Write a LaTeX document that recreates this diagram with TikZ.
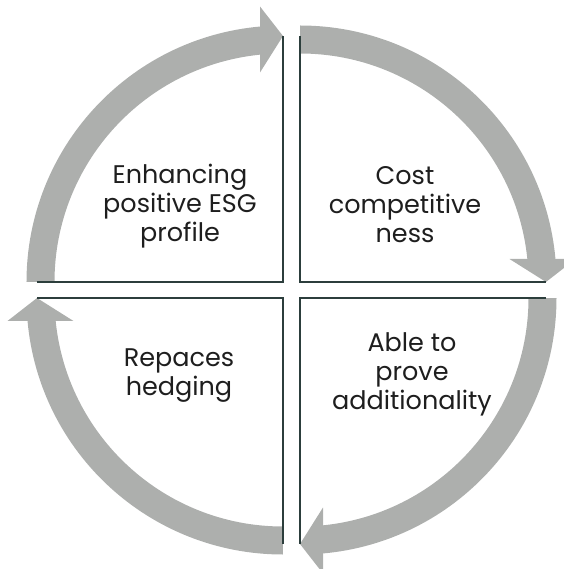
\documentclass[tikz,border=0pt]{standalone}
\usepackage{fontspec}
\usepackage{xcolor}
\usetikzlibrary{calc}
\newfontfamily\labelfont{Poppins}
\definecolor{arcgray}{RGB}{173, 175, 173}
\definecolor{dividerdark}{RGB}{44, 62, 60}
\definecolor{labeltext}{RGB}{30, 30, 30}
\tikzset{
    % Thick curved band of each quarter
    cyclearc/.style={
        draw=arcgray,
        line width=28pt,
        line cap=butt,
    },
    % Flat arrow head closing the band
    cyclehead/.style={
        fill=arcgray,
    },
    % Straight edges of each quarter
    divider/.style={
        draw=dividerdark,
        line width=2pt,
        line join=miter,
    },
    % Quarter text
    quadlabel/.style={
        font=\labelfont\fontsize{25.5}{29}\selectfont,
        text=labeltext,
        align=center,
        inner sep=0pt,
    },
}

\begin{document}
\begin{tikzpicture}[x=1pt, y=1pt]

\useasboundingbox (-291.5,-279) rectangle (271.5,290);

% =========================================================================
% Corners of the four quarters
% =========================================================================
\coordinate (ctl) at (-8.5, 8);
\coordinate (ctr) at (8.5, 8);
\coordinate (cbr) at (8.5, -8);
\coordinate (cbl) at (-8.5, -8);

% =========================================================================
% TOP LEFT (left -> top)
% =========================================================================
\draw[cyclearc] ($(ctl)+(180:242.5)$) arc[start angle=180, end angle=95, radius=242.5];
\fill[cyclehead] ($(ctl)+(90:246)$) -- ($(ctl)+(90:275.5)+(-23,0)$) -- ($(ctl)+(90:209.5)+(-23,0)$) -- cycle;
\draw[divider] ($(ctl)+(180:246)$) -- (ctl) -- ($(ctl)+(90:246)$);

% =========================================================================
% TOP RIGHT (top -> right)
% =========================================================================
\draw[cyclearc] ($(ctr)+(90:242.5)$) arc[start angle=90, end angle=5, radius=242.5];
\fill[cyclehead] ($(ctr)+(0:246)$) -- ($(ctr)+(0:275.5)+(0,23)$) -- ($(ctr)+(0:209.5)+(0,23)$) -- cycle;
\draw[divider] ($(ctr)+(90:246)$) -- (ctr) -- ($(ctr)+(0:246)$);

% =========================================================================
% BOTTOM RIGHT (right -> bottom)
% =========================================================================
\draw[cyclearc] ($(cbr)+(0:242.5)$) arc[start angle=0, end angle=-85, radius=242.5];
\fill[cyclehead] ($(cbr)+(-90:246)$) -- ($(cbr)+(-90:275.5)+(23,0)$) -- ($(cbr)+(-90:209.5)+(23,0)$) -- cycle;
\draw[divider] ($(cbr)+(0:246)$) -- (cbr) -- ($(cbr)+(-90:246)$);

% =========================================================================
% BOTTOM LEFT (bottom -> left)
% =========================================================================
\draw[cyclearc] ($(cbl)+(-90:242.5)$) arc[start angle=-90, end angle=-175, radius=242.5];
\fill[cyclehead] ($(cbl)+(180:246)$) -- ($(cbl)+(180:275.5)+(0,-23)$) -- ($(cbl)+(180:209.5)+(0,-23)$) -- cycle;
\draw[divider] ($(cbl)+(-90:246)$) -- (cbl) -- ($(cbl)+(180:246)$);

% =========================================================================
% LABELS
% =========================================================================
\node[quadlabel] (esg) at (-111.5, 84) {Enhancing\\positive ESG\\profile};
\node[quadlabel] (cost) at (113.5, 85) {Cost\\competitive\\ness};
\node[quadlabel] (additional) at (120.5, -84) {Able to\\prove\\additionality};
\node[quadlabel] (hedging) at (-112.5, -85.5) {Repaces\\hedging};

\end{tikzpicture}
\end{document}
